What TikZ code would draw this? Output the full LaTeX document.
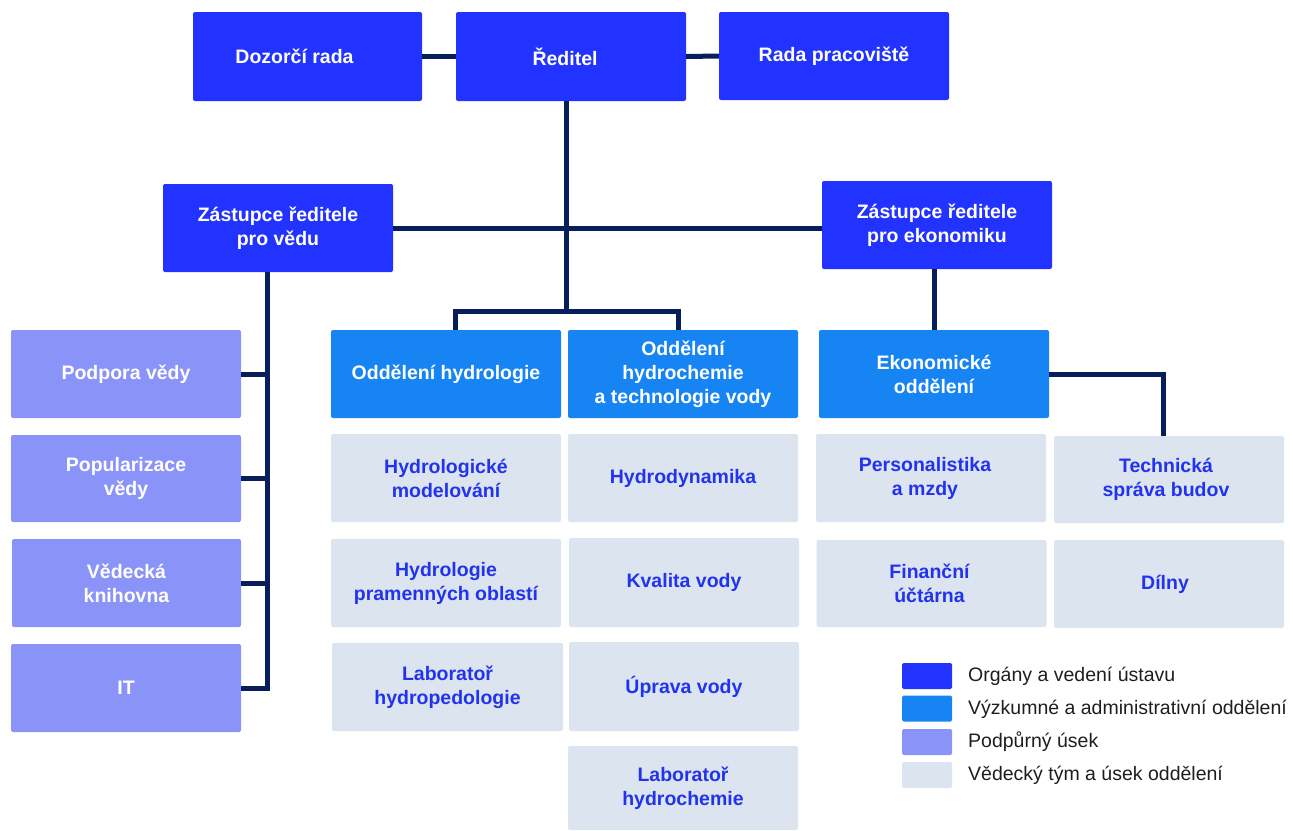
\documentclass[tikz,border=0pt]{standalone}
\usepackage{fontspec}
\setmainfont{Liberation Sans}
\definecolor{cOrg}{RGB}{34,51,255}
\definecolor{cDept}{RGB}{22,132,242}
\definecolor{cSupp}{RGB}{138,148,248}
\definecolor{cTeam}{RGB}{220,228,240}
\definecolor{cTeamTxt}{RGB}{34,51,238}
\definecolor{cLine}{RGB}{8,30,90}
\definecolor{cLeg}{RGB}{30,30,30}
\tikzset{
  unitbox/.style={minimum width=230pt, minimum height=88pt, inner sep=0pt, align=center,
    rounded corners=2pt, font=\fontsize{19.5}{24}\selectfont\bfseries},
  orgbox/.style={unitbox, fill=cOrg, text=white},
  deptbox/.style={unitbox, fill=cDept, text=white},
  suppbox/.style={unitbox, fill=cSupp, text=white},
  teambox/.style={unitbox, fill=cTeam, text=cTeamTxt},
  conn/.style={draw=cLine, line width=5pt, line join=miter},
  legsq/.style={minimum width=50pt, minimum height=26pt, inner sep=0pt, rounded corners=1.5pt},
  legtxt/.style={anchor=west, inner sep=0pt, text=cLeg, font=\fontsize{19.5}{24}\selectfont}
}
\begin{document}
\begin{tikzpicture}[x=1pt, y=-1pt]
\path[use as bounding box] (0,0) rectangle (1293,830);

% top level
\node[orgbox, minimum width=229pt, minimum height=89pt] (dozorci) at (307.5,56.5) {Dozorčí rada\hspace*{26pt}};
\node[orgbox, minimum height=89pt] (reditel) at (571,56.5) {Ředitel\hspace*{12pt}};
\node[orgbox] (rada) at (834,56) {Rada pracoviště};

% deputies
\node[orgbox] (zvedu) at (278,228) {Zástupce ředitele\\pro vědu};
\node[orgbox] (zekon) at (937,225) {Zástupce ředitele\\pro ekonomiku};

% departments
\node[deptbox] (ohydro) at (446,374) {Oddělení hydrologie};
\node[deptbox] (ochem) at (683,374) {Oddělení\\hydrochemie\\a technologie vody};
\node[deptbox] (ekon) at (934,374) {Ekonomické\\oddělení};

% teams
\node[teambox] (hmod) at (446,478) {Hydrologické\\modelování};
\node[teambox] (hpram) at (446,583) {Hydrologie\\pramenných oblastí};
\node[teambox, minimum width=231pt] (labhp) at (447.5,687) {Laboratoř\\hydropedologie};
\node[teambox] (hdyn) at (683,478) {Hydrodynamika};
\node[teambox, minimum height=89pt] (kval) at (684,582.5) {Kvalita vody};
\node[teambox, minimum height=89pt] (uprava) at (684,686.5) {Úprava vody};
\node[teambox, minimum height=84pt] (labhc) at (683,788) {Laboratoř\\hydrochemie};
\node[teambox] (person) at (931,478) {Personalistika\hspace*{12pt}\\a mzdy\hspace*{12pt}};
\node[teambox, minimum height=87pt] (fin) at (931.5,583.5) {Finanční\hspace*{4pt}\\účtárna\hspace*{4pt}};
\node[teambox, minimum height=87pt] (tech) at (1169,479.5) {Technická\hspace*{6pt}\\správa budov\hspace*{6pt}};
\node[teambox] (dilny) at (1169,584) {Dílny\hspace*{8pt}};

% support
\node[suppbox] (podpora) at (126,374) {Podpora vědy};
\node[suppbox, minimum height=87pt] (popul) at (126,478.5) {Popularizace\\vědy};
\node[suppbox, minimum width=229pt] (vedkn) at (126.5,583) {Vědecká\\knihovna};
\node[suppbox] (it) at (126,688) {IT};

% connectors
\draw[conn] (dozorci.east) -- (reditel.west);
\draw[conn] (reditel.east) -- (rada.west);
\draw[conn] (zvedu.east) -- (zvedu.east -| zekon.west);
\coordinate (jr) at (566,311);
\draw[conn] (reditel.south -| jr) -- (jr);
\draw[conn] ([xshift=9pt]ohydro.north) |- (jr) -| ([xshift=-5pt]ochem.north);
\draw[conn] (zekon.south -| ekon.north) -- (ekon.north);
\draw[conn] (ekon.east) -| ([xshift=-6pt]tech.north);
\coordinate (tv) at (267,0);
\draw[conn] (zvedu.south -| tv) |- (it.east);
\draw[conn] (podpora.east) -- (podpora.east -| tv);
\draw[conn] (popul.east) -- (popul.east -| tv);
\draw[conn] (vedkn.east) -- (vedkn.east -| tv);

% legend
\node[legsq, fill=cOrg] (l1) at (927,676) {};
\node[legsq, fill=cDept] (l2) at (927,708.5) {};
\node[legsq, fill=cSupp] (l3) at (927,742) {};
\node[legsq, fill=cTeam] (l4) at (927,775) {};
\node[legtxt] (t1) at (968,676) {Orgány a vedení ústavu};
\node[legtxt] (t2) at (968,709) {Výzkumné a administrativní oddělení};
\node[legtxt] (t3) at (968,742) {Podpůrný úsek};
\node[legtxt] (t4) at (968,775) {Vědecký tým a úsek oddělení};
\end{tikzpicture}
\end{document}
